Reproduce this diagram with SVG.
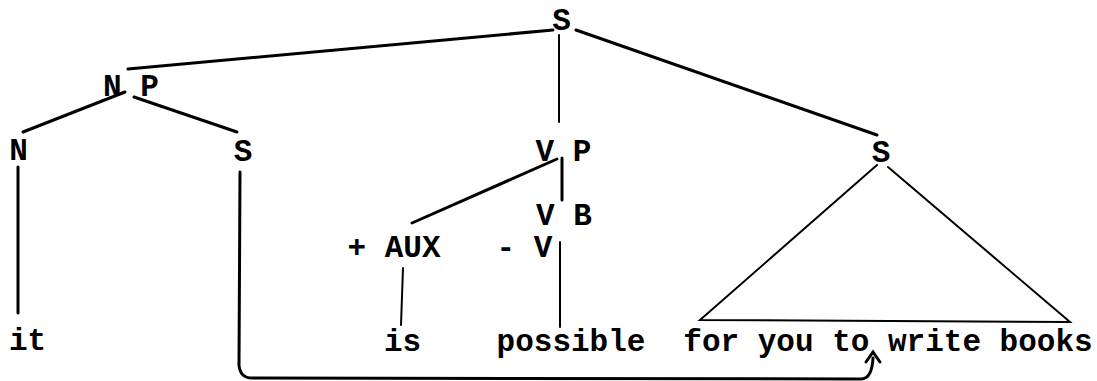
<svg xmlns="http://www.w3.org/2000/svg" width="1097" height="381" viewBox="0 0 1097 381">
<style>
  text { font-family: "Liberation Mono", "DejaVu Sans Mono", monospace; font-size: 31px; font-weight: bold; fill: #000; text-anchor: middle; }
  .thick { stroke: #000; stroke-width: 3; fill: none; stroke-linecap: round; }
  .thin { stroke: #000; stroke-width: 2; fill: none; stroke-linecap: round; }
</style>
<rect width="1097" height="381" fill="#fff"/>
<g id="connectors">
  <line class="thick" x1="553" y1="30" x2="128" y2="69"/>
  <line class="thin" x1="559" y1="35" x2="559" y2="122"/>
  <line class="thick" x1="576" y1="30" x2="877" y2="135"/>
  <line class="thick" x1="125" y1="92" x2="23" y2="132"/>
  <line class="thick" x1="134" y1="97" x2="237" y2="132"/>
  <line class="thick" x1="18" y1="167" x2="18" y2="313"/>
  <line class="thick" x1="557" y1="159" x2="412" y2="223"/>
  <line class="thick" x1="562" y1="158" x2="562" y2="200"/>
  <line class="thin" x1="560" y1="242" x2="560" y2="327"/>
  <line class="thin" x1="403" y1="268" x2="401" y2="325"/>
  <path class="thin" d="M877,165 L700,320 L1070,322 L888,167"/>
  <path class="thick" d="M240,172 L239,365 Q240,378 252,378 L862,379 Q872,378 873,358"/>
  <path class="thick" d="M866,362 L873,352 L880,362"/>
</g>
<g id="node-S-top"><text x="561.5" y="30">S</text></g>
<g id="node-NP"><text x="131" y="96">N P</text></g>
<g id="node-N"><text x="18.5" y="160">N</text></g>
<g id="node-S-np"><text x="243" y="161">S</text></g>
<g id="node-VP"><text x="563.5" y="161">V P</text></g>
<g id="node-S-right"><text x="881" y="162">S</text></g>
<g id="node-VB"><text x="564" y="225">V B</text></g>
<g id="node-AUX"><text x="394" y="257">+ AUX</text></g>
<g id="node-V"><text x="524.5" y="257">- V</text></g>
<g id="node-it"><text x="27.5" y="350">it</text></g>
<g id="node-is"><text x="402.5" y="351">is</text></g>
<g id="node-possible"><text x="571" y="351">possible</text></g>
<g id="node-for"><text x="888" y="351">for you to write books</text></g>
</svg>
